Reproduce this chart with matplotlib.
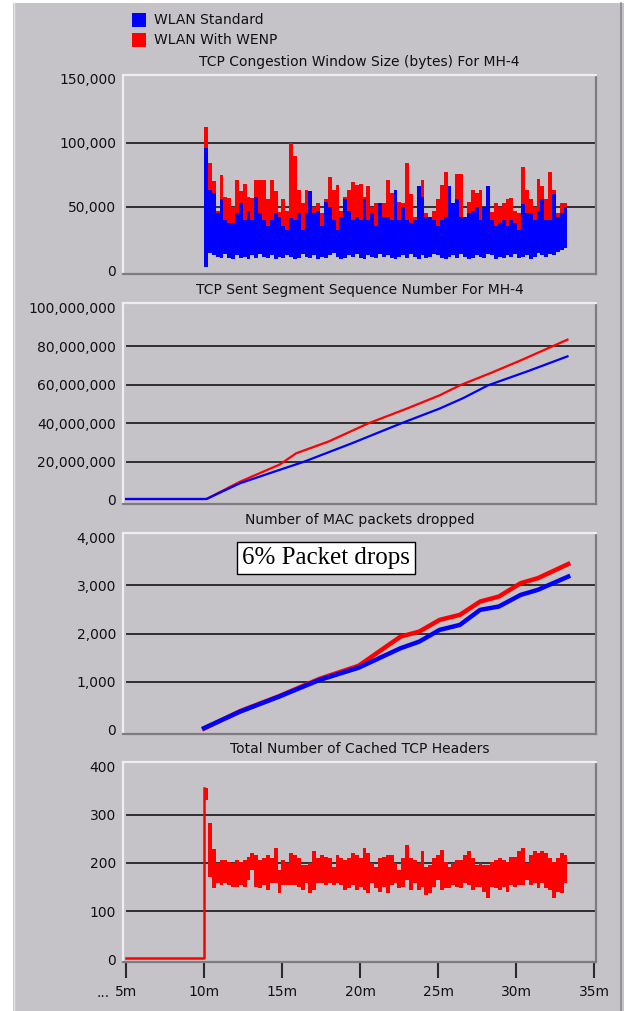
#!/usr/bin/env python3
"""OPNET-style four panel plot: WLAN standard vs WLAN with WENP (MH-4)."""
import matplotlib

matplotlib.use("Agg")
import matplotlib.pyplot as plt
import numpy as np
from matplotlib.lines import Line2D
from matplotlib.patches import Rectangle
from matplotlib.ticker import FuncFormatter

W, H = 624, 1011
BG = "#c5c3c7"
BLUE = "#0000ff"
RED = "#ff0000"

# --- TCP congestion window (kbytes), one peak/trough pair per bin from 10m to 33.3m
BIN_T0, BIN_T1 = 10.0, 33.3
cwnd_red_hi = [112, 84, 70, 47, 75, 58, 57, 50, 71, 62, 68, 58, 57, 71, 71, 71, 56, 71, 62, 46,
               56, 47, 100, 90, 63, 53, 63, 40, 50, 53, 45, 56, 73, 63, 67, 47, 58, 63, 69, 67,
               68, 58, 66, 50, 53, 50, 53, 71, 61, 56, 54, 53, 84, 60, 42, 58, 71, 45, 42, 47,
               56, 67, 77, 62, 53, 76, 76, 40, 54, 63, 61, 63, 47, 50, 46, 53, 50, 53, 56, 57,
               47, 45, 81, 63, 56, 50, 72, 66, 56, 77, 63, 45, 53, 53]
cwnd_red_lo = [30, 34, 28, 26, 32, 29, 27, 25, 33, 30, 28, 31, 26, 34, 30, 32, 27, 35, 29, 26,
               30, 27, 38, 33, 29, 26, 31, 24, 28, 30, 26, 29, 34, 30, 31, 25, 30, 33, 31, 29,
               32, 28, 31, 26, 29, 27, 30, 33, 29, 27, 30, 28, 35, 30, 24, 29, 33, 26, 25, 27,
               30, 31, 34, 29, 27, 32, 33, 24, 28, 31, 30, 32, 26, 28, 25, 29, 27, 30, 31, 29,
               26, 25, 34, 31, 29, 27, 33, 31, 28, 34, 31, 26, 30, 32]
cwnd_blue_hi = [96, 63, 61, 45, 56, 40, 37, 37, 45, 53, 40, 47, 40, 58, 45, 40, 35, 40, 45, 42,
                35, 32, 41, 40, 45, 32, 45, 62, 45, 47, 35, 54, 50, 40, 32, 42, 56, 47, 40, 42,
                40, 56, 40, 45, 35, 53, 42, 42, 40, 63, 40, 50, 40, 37, 40, 66, 58, 42, 42, 40,
                35, 40, 42, 66, 53, 56, 42, 42, 45, 47, 50, 40, 50, 66, 40, 35, 37, 40, 35, 40,
                37, 32, 52, 45, 45, 40, 47, 56, 40, 40, 60, 42, 45, 50]
cwnd_blue_lo = [3, 14, 12, 11, 10, 13, 10, 9, 12, 10, 11, 9, 12, 10, 13, 11, 10, 12, 9, 11,
                10, 12, 11, 9, 10, 13, 11, 10, 12, 9, 11, 10, 12, 14, 11, 9, 10, 12, 11, 13,
                10, 9, 12, 11, 10, 13, 11, 12, 10, 9, 11, 12, 10, 13, 11, 9, 12, 10, 11, 13,
                12, 10, 9, 11, 12, 10, 13, 11, 9, 10, 12, 11, 10, 13, 12, 9, 11, 10, 12, 11,
                13, 10, 11, 12, 9, 11, 14, 12, 11, 13, 12, 15, 16, 18]

# --- TCP sent segment sequence number (millions)
seq_blue_t = [5.0, 10.15, 12.3, 14.3, 16.4, 19.5, 22.6, 25.1, 26.6, 28.2, 30.8, 33.3]
seq_blue_v = [0.5, 0.5, 8.7, 14.2, 19.9, 29.6, 39.8, 47.6, 53.0, 59.7, 67.2, 74.8]
seq_red_t = [5.0, 10.15, 12.3, 14.86, 15.9, 18.0, 20.5, 23.0, 25.1, 26.4, 28.4, 30.3, 33.3]
seq_red_v = [0.5, 0.5, 9.5, 18.5, 24.3, 30.5, 39.8, 47.6, 54.5, 59.7, 66.2, 72.7, 83.5]

# --- number of MAC packets dropped
mac_blue_t = [10.0, 12.3, 14.8, 17.4, 19.9, 22.6, 23.8, 25.1, 26.4, 27.7, 28.9, 30.3, 31.4, 33.35]
mac_blue_v = [40, 380, 691, 1037, 1290, 1695, 1832, 2075, 2178, 2490, 2559, 2800, 2905, 3180]
mac_red_t = [10.0, 12.3, 14.8, 17.4, 19.9, 22.6, 23.8, 25.1, 26.4, 27.7, 28.9, 30.3, 31.4, 33.35]
mac_red_v = [30, 390, 700, 1060, 1330, 1936, 2040, 2282, 2386, 2662, 2766, 3043, 3147, 3440]

# --- total number of cached TCP headers (WENP only)
hdr_flat_t = [5.0, 10.0]
hdr_flat_v = [3, 3]
hdr_hi = [355, 283, 230, 199, 206, 206, 203, 199, 206, 203, 206, 213, 220, 217, 206, 210, 217, 210, 231, 185,
          206, 199, 220, 217, 210, 196, 196, 199, 224, 210, 217, 213, 210, 192, 217, 210, 206, 210, 220, 217,
          210, 231, 220, 199, 192, 210, 213, 217, 217, 199, 185, 210, 238, 210, 206, 199, 224, 192, 196, 210,
          217, 227, 203, 192, 199, 206, 206, 217, 224, 210, 196, 199, 196, 196, 203, 206, 210, 206, 203, 213,
          213, 224, 231, 199, 217, 224, 220, 224, 220, 210, 203, 210, 220, 217]
hdr_lo = [330, 170, 147, 158, 154, 158, 154, 151, 151, 154, 151, 165, 185, 151, 147, 154, 144, 158, 158, 137,
          154, 154, 154, 154, 151, 144, 158, 137, 144, 158, 158, 154, 158, 154, 158, 154, 144, 147, 154, 144,
          151, 144, 137, 158, 147, 140, 151, 137, 154, 158, 147, 151, 165, 144, 158, 144, 151, 133, 137, 151,
          165, 144, 147, 147, 154, 151, 147, 158, 154, 144, 151, 151, 140, 127, 151, 147, 144, 151, 140, 154,
          151, 154, 154, 165, 154, 158, 147, 158, 147, 144, 127, 140, 137, 158]

titles = [
    "TCP Congestion Window Size (bytes) For MH-4",
    "TCP Sent Segment Sequence Number For MH-4",
    "Number of MAC packets dropped",
    "Total Number of Cached TCP Headers",
]
yticks = [
    [0, 50000, 100000, 150000],
    [0, 20e6, 40e6, 60e6, 80e6, 100e6],
    [0, 1000, 2000, 3000, 4000],
    [0, 100, 200, 300, 400],
]
ylims = [(-2500, 153000), (-2.1e6, 102.6e6), (-83, 4083), (-6, 410)]
xticks = [5, 10, 15, 20, 25, 30, 35]
xlabels = ["5m", "10m", "15m", "20m", "25m", "30m", "35m"]
legend_labels = ["WLAN Standard", "WLAN With WENP"]

# panel extents in pixels (top, bottom)
PANELS = [(75, 274), (303, 504), (533, 734), (762, 962)]
AX_L, AX_R = 123, 596


def fx(x):
    return x / W


def fy(y):
    return 1 - y / H


def band(ax, hi, lo, color, scale=1.0, z=3):
    # each sample bin drawn as a solid block from trough to peak
    edges = np.linspace(BIN_T0, BIN_T1, len(hi) + 1)
    top = np.append(hi, hi[-1]) * scale
    bot = np.append(lo, lo[-1]) * scale
    ax.fill_between(edges, bot, top, step="post", color=color, lw=0, zorder=z)


def main() -> None:
    plt.rcParams["font.family"] = "DejaVu Sans"
    fig = plt.figure(figsize=(W / 100, H / 100), dpi=100)
    fig.patch.set_facecolor("white")
    fig.add_artist(Rectangle((fx(12.5), 0), 1, fy(3), transform=fig.transFigure,
                             facecolor=BG, edgecolor="none", zorder=-10))
    fig.add_artist(Line2D([fx(13.5)] * 2, [0, fy(3)], transform=fig.transFigure,
                          color="#e4e2e6", lw=1.0))
    fig.add_artist(Line2D([fx(621)] * 2, [0, fy(3)], transform=fig.transFigure,
                          color="#8a888c", lw=1.2))

    axes = []
    for i, (top, bot) in enumerate(PANELS):
        ax = fig.add_axes([fx(AX_L), fy(bot), (AX_R - AX_L) / W, (bot - top) / H])
        ax.set_facecolor(BG)
        ax.set_xlim(4.8, 35.13)
        ax.set_ylim(*ylims[i])
        ax.set_yticks(yticks[i])
        ax.yaxis.set_major_formatter(FuncFormatter(lambda v, p: f"{v:,.0f}"))
        ax.tick_params(axis="y", length=0, pad=5, labelsize=10, labelcolor="#111111")
        for s in ("left", "top"):
            ax.spines[s].set_color("#efedf1")
            ax.spines[s].set_linewidth(1.6)
        for s in ("right", "bottom"):
            ax.spines[s].set_color("#7e7c80")
            ax.spines[s].set_linewidth(1.6)
        for v in yticks[i][1:-1]:
            ax.axhline(v, xmin=0.008, xmax=0.996, color="#2e2e2e", lw=1.4, zorder=1)
        fig.text(fx((AX_L + AX_R) / 2), fy(top - 13), titles[i], ha="center", va="center",
                 fontsize=10, color="#111111")
        if i < 3:
            ax.set_xticks([])
        axes.append(ax)

    ax1, ax2, ax3, ax4 = axes

    # panel 1: congestion window
    band(ax1, cwnd_red_hi, cwnd_red_lo, RED, 1000, z=3)
    band(ax1, cwnd_blue_hi, cwnd_blue_lo, BLUE, 1000, z=4)

    # panel 2: sequence number
    ax2.plot(seq_red_t, np.array(seq_red_v) * 1e6, color=RED, lw=1.6, zorder=3)
    ax2.plot(seq_blue_t, np.array(seq_blue_v) * 1e6, color=BLUE, lw=1.6, zorder=4)

    # panel 3: MAC drops
    ax3.plot(mac_red_t, mac_red_v, color=RED, lw=3.2, zorder=3)
    ax3.plot(mac_blue_t, mac_blue_v, color=BLUE, lw=3.2, zorder=4)
    ax3.text(0.43, 0.878, "6% Packet drops", transform=ax3.transAxes, ha="center", va="center",
             fontsize=18, family="Liberation Serif", color="black", zorder=6,
             bbox=dict(boxstyle="square,pad=0.2", facecolor="white", edgecolor="black", lw=1.0))

    # panel 4: cached headers
    ax4.plot(hdr_flat_t + [hdr_flat_t[-1]], hdr_flat_v + [hdr_hi[0]], color=RED, lw=1.8, zorder=3)
    band(ax4, hdr_hi, hdr_lo, RED, z=3)
    ax4.set_xticks(xticks)
    ax4.set_xticklabels(xlabels)
    ax4.tick_params(axis="x", length=11.5, width=1.5, color="#2a2a2a", pad=5,
                    labelsize=10, labelcolor="#111111")
    fig.text(fx(110), fy(993), "...", ha="right", va="center", fontsize=10, color="#111111")

    # legend
    for k, (lab, col) in enumerate(zip(legend_labels, [BLUE, RED])):
        y0 = 13 + 20 * k
        fig.add_artist(Rectangle((fx(131.5), fy(y0 + 14)), 14 / W, 14 / H,
                                 transform=fig.transFigure, facecolor=col, edgecolor="none"))
        fig.text(fx(154), fy(y0 + 7), lab, ha="left", va="center", fontsize=10, color="#111111")

    fig.savefig("out.png", dpi=100, facecolor=fig.get_facecolor())
    plt.close(fig)


if __name__ == "__main__":
    main()
